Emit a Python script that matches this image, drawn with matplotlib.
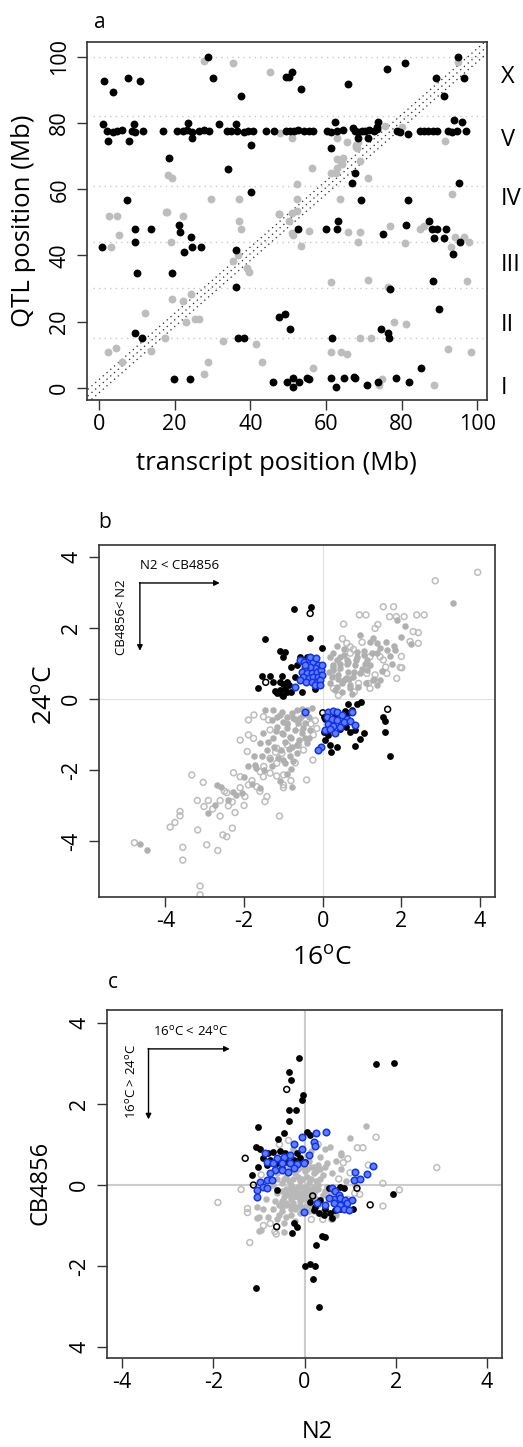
import numpy as np
import matplotlib
matplotlib.use("Agg")
import matplotlib.pyplot as plt

plt.rcParams['font.family'] = ['Open Sans', 'DejaVu Sans']
plt.rcParams['mathtext.fontset'] = 'custom'
plt.rcParams['mathtext.rm'] = 'Open Sans'
plt.rcParams['axes.unicode_minus'] = False

###############################################################################
# Data
###############################################################################
# panel a: transcript position vs QTL position (Mb)
a_black_x = [1.3, 3.6, 7.6, 10.9, 28.9, 30.2, 37.6, 49.4, 50.2, 51.0, 53.3, 65.9,
             76.2, 81.0, 89.2, 91.2, 95.0, 96.6,
             1.1, 2.4, 7.8, 9.2, 23.5, 24.7, 31.6, 36.3, 40.2, 62.4, 61.3, 68.6,
             71.1, 73.9, 94.0, 96.1, 81.6, 73.5, 67.1,
             2.2, 3.6, 4.7, 6.0, 8.6, 9.5, 11.7, 16.8, 20.5, 22.1, 23.2, 24.5,
             26.3, 27.8, 29.2, 33.8, 34.8, 36.6, 38.2, 39.5, 40.8, 44.1, 46.3,
             49.4, 50.5, 51.6, 52.7, 54.1, 55.4, 56.5, 60.4, 61.3, 62.9, 64.5,
             67.7, 68.6, 69.5, 70.4, 71.3, 72.6, 73.5, 78.7, 79.6, 84.9, 86.0,
             87.1, 88.3, 89.3, 92.4, 93.3, 94.6, 97.1,
             40.3, 34.0, 18.5, 7.3, 69.2, 81.6, 95.3, 67.7, 67.0,
             0.7, 9.4, 9.5, 13.7, 10.1, 19.3, 21.2, 21.4, 22.5, 24.3, 24.5, 27.0,
             36.3, 36.3, 36.8, 38.3, 9.5, 11.4, 19.9, 24.1, 52.5, 59.9, 63.0,
             63.1, 47.6, 49.2, 50.6, 61.6, 45.9, 49.7, 51.2, 51.2, 52.9, 54.9,
             55.4, 61.4, 62.7, 64.9, 67.5, 67.7, 70.8, 73.8, 78.6, 82.0, 85.1,
             74.6, 76.4, 76.8, 77.0, 75.0, 81.1, 88.3, 89.8, 87.3, 88.1, 89.3,
             88.5, 91.3, 91.8, 93.7, 95.5]
a_black_y = [92.7, 89.5, 93.6, 92.8, 100.0, 93.6, 88.2, 93.8, 93.8, 95.4, 90.4, 91.7,
             96.4, 98.1, 93.6, 88.2, 100.0, 93.6,
             79.6, 74.5, 74.6, 79.6, 80.1, 75.4, 79.6, 79.6, 73.3, 80.2, 72.5, 75.6,
             75.6, 80.2, 81.0, 80.2, 76.6, 78.9, 78.6,
             77.6, 77.3, 77.6, 77.9, 77.6, 77.3, 77.6, 77.6, 77.6, 77.6, 77.9, 77.3,
             77.6, 77.9, 77.6, 77.6, 77.6, 77.6, 77.3, 77.6, 77.6, 77.6, 77.6,
             77.6, 77.6, 77.6, 77.9, 77.6, 77.6, 77.6, 77.6, 77.3, 77.6, 77.9,
             77.6, 77.3, 77.6, 77.6, 77.9, 77.6, 78.2, 77.6, 77.3, 77.6, 77.6,
             77.6, 77.6, 77.6, 77.6, 77.3, 77.6, 77.6,
             59.2, 66.1, 69.3, 56.8, 56.8, 56.8, 62.0, 65.0, 62.0,
             42.5, 47.9, 44.2, 47.9, 34.7, 34.7, 49.2, 47.0, 41.0, 45.5, 42.5, 42.6,
             41.6, 30.6, 15.1, 15.1, 16.7, 15.1, 2.7, 2.7, 47.9, 47.9, 47.9,
             50.5, 21.5, 22.2, 17.8, 15.1, 1.8, 1.8, 2.8, 0.1, 1.8, 3.0,
             2.6, 2.8, 0.1, 2.8, 3.3, 2.8, 0.8, 1.8, 2.8, 1.8, 5.9,
             17.8, 16.7, 15.1, 29.7, 46.4, 49.2, 32.3, 23.8, 50.5, 47.9, 47.9,
             45.4, 45.4, 47.9, 40.3, 44.2]
a_gray_x = [27.8, 35.3, 45.1, 95.0, 47.9, 51.0, 63.0, 65.5, 68.0, 68.2, 62.9, 64.0,
            64.3, 69.0, 56.2, 62.8, 62.6, 71.0, 52.3, 75.7, 80.1, 91.5, 93.3, 18.1,
            19.2, 29.5, 36.9, 52.3, 63.8, 17.6, 47.5, 52.3, 64.4, 68.0, 68.4, 61.4,
            2.5, 4.7, 5.3, 3.2, 17.9, 19.0, 22.1, 19.2, 22.2, 24.3, 22.9, 25.4, 26.5,
            12.1, 17.5, 13.8, 2.3, 4.6, 6.1, 27.8, 28.8, 32.7, 35.4, 36.8, 39.1,
            39.6, 36.9, 37.5, 41.5, 43.2, 47.7, 50.2, 51.0, 51.4, 51.1, 53.4, 55.6,
            56.7, 61.3, 61.3, 63.9, 65.9, 65.5, 68.9, 68.6, 68.9, 71.2, 71.9, 74.1,
            74.8, 76.5, 77.0, 78.0, 80.9, 81.2, 85.0, 85.9, 88.5, 92.2, 93.0, 94.1,
            96.4, 97.9, 97.2, 98.3]
a_gray_y = [98.9, 98.1, 95.4, 98.6, 76.9, 75.4, 75.4, 74.4, 73.5, 72.5, 69.0, 68.2,
            67.5, 68.6, 66.4, 66.4, 65.0, 63.3, 61.5, 79.2, 78.9, 74.6, 58.7, 64.4,
            63.4, 56.9, 57.0, 57.0, 57.0, 53.1, 52.5, 53.3, 69.4, 72.7, 74.2, 64.8,
            52.0, 52.0, 46.2, 42.6, 53.0, 44.2, 52.0, 26.8, 26.2, 28.2, 19.8, 20.8, 20.8,
            22.5, 15.1, 11.2, 10.9, 11.9, 7.7, 4.3, 7.7, 14.1, 38.3, 40.1, 36.1,
            35.1, 50.5, 47.9, 13.2, 7.7, 52.4, 50.5, 46.9, 46.2, 52.8, 42.9, 47.4,
            5.9, 32.1, 10.9, 10.9, 47.0, 10.2, 47.0, 44.2, 15.1, 32.6, 15.1, 0.8,
            2.6, 30.6, 48.9, 19.8, 43.6, 19.2, 47.9, 48.9, 0.8, 11.7, 42.6, 45.5,
            45.5, 44.2, 32.3, 10.9]
chrom_bounds = [100, 82, 61, 44, 30, 15]
chrom_names = ['X', 'V', 'IV', 'III', 'II', 'I']
chrom_label_y = [94, 75, 57, 37, 19, 0]

# panel b: 16C vs 24C
b_black_x = [-0.73, -0.30, -1.48, -0.32, -0.03, -1.09, -0.96, -1.02, -0.38, -0.81,
             -0.58, -0.41, -1.54, -1.34, -1.04, -1.26, -1.10, -1.02, -0.92, -0.87,
             -1.64, -1.21, -1.09, -0.96, -1.17, -1.04, -0.92, -1.02, -0.81, -0.53,
             -0.19, -0.70, -0.66,
             0.06, 0.14, 0.65, 0.87, 0.98, 0.74, 0.57, 0.65, 0.82, 1.05, 0.70, 0.59,
             0.95, 0.82, 0.02, 0.14, 0.06, 0.19, 0.36, 0.20, 1.54, 1.59, 1.59, 1.71,
             0.44, 0.02, 0.30]
b_black_y = [2.53, 2.60, 1.68, 1.71, 1.43, 1.36, 1.33, 1.17, 1.15, 0.89,
             1.17, 1.19, 0.66, 0.66, 0.66, 0.49, 0.47, 0.41, 0.49, 0.39,
             0.30, 0.23, 0.25, 0.27, 0.16, 0.11, 0.21, 0.09, 0.21, 0.21,
             0.27, 0.63, 0.96,
             -0.56, -0.67, -0.14, -0.15, -0.08, -0.31, -0.33, -0.40, -0.87, -0.95,
             -0.94, -0.78, -1.14, -1.32, -0.92, -1.01, -1.16, -1.30, -1.36, -1.50,
             -0.52, -0.61, -0.92, -1.62, -0.85, -0.50, -0.45]
b_open_black_x = [-0.32, -1.45, 0.0, 1.65]
b_open_black_y = [2.41, 0.47, -0.39, -0.29]
b_blue_x = [-0.58, -0.47, -0.36, -0.24, -0.11, -0.19, -0.32, -0.45, -0.53, -0.41,
            -0.28, -0.15, -0.05, -0.49, -0.36, -0.24, -0.11, -0.03, -0.58, -0.42,
            -0.28, -0.15, -0.07, -0.70, -0.19, -0.08, -0.32, -0.17, -0.03, -0.45,
            0.14, 0.27, 0.37, 0.48, 0.61, 0.74, 0.10, 0.23, 0.36, 0.53, 0.70, 0.82,
            0.14, 0.27, 0.44, 0.06, 0.19, 0.31, -0.05, -0.11, -0.45]
b_blue_y = [1.10, 1.05, 1.12, 1.05, 0.96, 0.86, 0.91, 0.86, 0.77, 0.72,
            0.74, 0.77, 0.82, 0.63, 0.58, 0.61, 0.63, 0.68, 0.53, 0.49,
            0.49, 0.49, 0.53, 0.35, 0.39, 0.39, 1.19, 1.15, 0.96, 0.95,
            -0.36, -0.33, -0.36, -0.45, -0.55, -0.36, -0.50, -0.55, -0.59, -0.64,
            -0.61, -0.73, -0.70, -0.76, -0.80, -0.87, -0.85, -0.97, -1.34, -1.44, -0.38]
b_gray_x = [-4.66, -4.48, -2.91, -2.74, -2.70, -2.60, -2.27, -2.06, -1.76, -1.72,
            -0.81, -1.00, -1.42, -1.59, -1.51, -1.17, -1.00, -0.92, -0.79, -0.66,
            -0.53, -0.41, -0.28, -0.58, -0.45, -0.32, -0.36, -0.53, -0.70, -0.83,
            -0.96, -0.79, -0.66, -0.83, -0.92, -1.04, -1.26, -1.26, -1.47, -1.17,
            -1.04, -0.92, -0.75, -0.62, -0.49, -0.79,
            -1.3, -1.1, -0.9, -0.7, -0.5, -0.35, -1.2, -1.0, -0.8, -0.6, -0.4,
            -1.4, -1.25, -1.05, -0.85, -0.65, -0.45, -1.55, -1.35, -1.15, -0.95,
            -0.75, -1.7, -1.5, -1.3, -1.1, -0.9, -2.0, -1.8, -1.6, -2.2, -2.4, -1.9,
            0.19, 0.27, 0.36, 0.44, 0.53, 0.61, 0.82, 0.87, 1.04, 1.08, 1.37, 1.76,
            0.15, 0.27, 0.40, 0.53, 0.65, 0.78, 0.95, 1.12, 1.46, 0.19, 0.36, 0.70,
            1.37, 0.23, 0.48, 0.68, 3.31, 1.88, 2.10, 0.95, 1.19, 1.29, 1.37, 1.63,
            1.84, 2.24, 0.27, 0.44, 0.61, 0.87, 1.12, 1.29,
            0.3, 0.5, 0.7, 0.9, 1.1, 1.3, 0.4, 0.6, 0.8, 1.0, 1.2, 1.5, 1.7, 0.25,
            0.45, 0.65, 0.85, 1.05, 1.25, 1.45, 1.6, 1.8, 2.0, 0.35, 0.55, 0.75]
b_gray_y = [-4.09, -4.25, -3.22, -2.99, -2.42, -2.47, -2.61, -2.66, -1.62, -1.86,
            -1.98, -1.72, -1.44, -1.25, -0.97, -0.78, -0.64, -0.50, -0.40, -0.31,
            -0.29, -0.31, -0.26, -0.54, -0.69, -0.87, -1.11, -0.97, -0.87, -1.06,
            -1.20, -1.34, -1.53, -1.62, -0.83, -0.97, -1.11, -0.31, -0.31, -0.50,
            -0.36, -0.69, -0.54, -0.69, -0.83, -2.47,
            -0.6, -0.45, -0.7, -0.55, -0.45, -0.5, -0.9, -1.0, -1.1, -1.15, -1.25,
            -1.2, -1.35, -1.45, -1.4, -1.3, -1.1, -1.6, -1.7, -1.65, -1.8,
            -1.75, -1.95, -2.0, -1.9, -2.3, -2.1, -2.2, -2.4, -2.5, -2.7, -2.85, -1.9,
            1.19, 0.96, 1.10, 0.86, 1.24, 1.00, 0.96, 1.33, 1.24, 1.00, 1.29, 1.00,
            0.77, 0.82, 0.68, 0.53, 0.77, 0.63, 0.72, 0.82, 0.53, 0.44, 0.35, 0.39,
            0.39, 0.63, 0.44, 0.55, 2.71, 2.23, 2.06, 1.80, 1.61, 1.71, 1.57, 1.38,
            1.38, 1.55, 1.29, 1.19, 1.10, 1.19, 1.10, 0.54,
            0.25, 0.2, 0.3, 0.35, 0.45, 0.55, 0.55, 0.6, 0.75, 0.85, 0.95, 0.8, 1.2, 0.9,
            1.0, 1.05, 1.1, 1.35, 1.3, 1.45, 1.6, 1.5, 1.75, 1.5, 1.4, 0.15]
b_gray_open_x = [-4.79, -3.88, -3.76, -3.63, -3.63, -3.56, -3.56, -3.18, -2.95, -2.67,
                 -3.33, -3.04, -3.19, -2.91, -3.02, -2.61, -2.61, -2.40, -2.23, -2.54,
                 -2.44, -2.30, -1.10, -2.44, -1.98, -1.89, -1.68, -1.47, -1.42, -2.10,
                 -2.27, -2.10, -1.89, -1.92, -1.59, -1.51, -1.34, -1.17, -1.00, -0.81,
                 -1.34, -1.17, -1.17, -1.76, -1.34, -0.62, -0.49, -1.04, -1.38, -1.51,
                 -0.24, -0.15, -0.19, -1.75, -1.89, -0.25, -1.00, -0.41, -3.12, -3.12,
                 0.70, 1.20, 1.54, 1.97, 1.33, 1.16, 0.91, 0.27,
                 3.94, 2.86, 1.54, 0.93, 1.10, 1.70, 1.87, 2.07, 2.39, 2.58, 2.43, 0.53,
                 1.33, 0.61, 0.70, 0.78, 2.22, 2.43, 2.01, 1.46, 0.36, 1.12, 1.63, 1.88,
                 -0.3, -0.6, -0.9, -1.2, -1.5, -1.8, -2.1, -2.5, -2.8, -0.7, -1.0,
                 -1.6, -2.0, -2.3, 0.4, 0.8, 1.2, 1.6, 2.0, 2.3, 0.5, 1.0, 1.4, 1.8]
b_gray_open_y = [-4.05, -3.61, -3.48, -3.17, -3.29, -4.18, -4.54, -3.69, -4.11, -4.27,
                 -2.14, -2.35, -2.86, -2.86, -3.03, -2.86, -3.30, -3.01, -3.20, -3.83,
                 -3.88, -3.64, -3.30, -2.64, -2.75, -2.42, -2.47, -2.89, -2.75, -2.19,
                 -2.08, -1.16, -1.01, -1.48, -2.05, -2.19, -2.09, -2.17, -2.14, -2.30,
                 -1.67, -1.81, -1.39, -1.11, -0.87, -1.30, -1.44, -1.53, -0.59, -0.50,
                 -1.01, -0.83, -0.61, -0.45, -0.59, -1.72, -2.42, -2.28, -5.27, -5.52,
                 1.29, 1.19, 1.10, 0.89, 0.68, 0.44, 0.44, 0.30,
                 3.57, 3.33, 2.60, 2.37, 2.37, 2.32, 2.32, 2.32, 2.37, 2.37, 1.87, 2.11,
                 1.99, 1.57, 1.47, 1.40, 1.62, 1.57, 0.88, 1.19, 0.72, 0.72, 0.72, 0.58,
                 -0.7, -0.8, -1.3, -1.5, -1.9, -2.3, -2.5, -2.6, -3.1, -1.8, -2.5,
                 -2.6, -3.0, -2.9, 0.1, 0.2, 0.3, 0.9, 1.2, 1.9, 1.7, 1.6, 2.1, 2.6]

# panel c: N2 vs CB4856
c_black_x = [-0.11, -0.35, -0.29, -0.04, -0.06, -0.33, -0.18, -0.34, 1.57, 1.97,
             -1.02, -0.44, -0.58, -1.06, -0.97, 0.05, 0.13, -0.79, -0.68, -0.53,
             -0.42, -0.31, -0.17, -0.90, -0.75, -0.60, -0.38, -0.24, -0.09, 0.00,
             -1.01, -0.82, -0.50, -1.15, -0.61, 0.53, 0.64, 0.78, 0.87, 1.95,
             0.13, 0.24, 0.35, 0.45, 0.56, 0.67, 0.78, 1.06, 0.20, 0.31, 0.42, 0.60,
             -0.22, -0.17, -0.28, 0.38, 0.45, 0.26, 0.0, 0.13, 0.23, 0.18, -1.07, 0.32]
c_black_y = [3.13, 2.80, 2.59, 2.22, 2.10, 1.85, 1.85, 1.59, 2.98, 3.02,
             1.42, 1.28, 1.13, 0.93, 0.88, 1.32, 1.24, 0.80, 0.82, 0.85,
             0.78, 0.74, 0.78, 0.66, 0.62, 0.54, 0.58, 0.62, 0.66, 0.58,
             0.45, 0.49, 0.41, 0.25, -0.12, -0.08, -0.12, -0.06, -0.08, -0.23,
             -0.41, -0.54, -0.37, -0.58, -0.70, -0.62, -0.58, -0.58, -0.62, -0.70, -0.74, -0.82,
             -0.93, -1.03, -1.18, -1.25, -1.29, -1.48, -2.0, -1.96, -2.0, -2.32, -2.54, -3.01]
c_open_black_x = [-0.39, -1.12, -1.30, 1.15, 0.18, 1.44, -0.61]
c_open_black_y = [2.36, 0.0, 0.66, -0.08, -0.27, -0.49, -1.03]
c_blue_x = [-0.06, 0.25, 0.48, -0.23, 0.20, 0.24, -0.06, 0.09, -0.86, -0.61, -0.46,
            -0.31, -0.83, -0.68, -0.50, -0.31, -0.17, -0.02, -0.64, -0.50, -0.37,
            -0.24, -0.75, -0.97, -0.82, -0.71, -0.90, -1.04, -0.82, -1.04, 0.60,
            0.67, 0.75, 0.64, 0.78, 0.89, 0.53, 0.45, 0.64, 0.78, 0.93, 1.05, 0.71,
            0.86, 0.97, -0.01, 1.08, 1.22, 1.11, 1.37, 1.51, 0.27]
c_blue_y = [1.19, 1.28, 1.32, 1.01, 1.05, 0.96, 0.88, 0.74, 0.80, 0.66, 0.70,
            0.74, 0.58, 0.54, 0.54, 0.54, 0.52, 0.55, 0.37, 0.37, 0.33,
            0.41, 0.29, 0.08, 0.12, 0.12, -0.06, -0.12, -0.08, -0.30, -0.08,
            -0.14, -0.25, -0.35, -0.33, -0.37, -0.33, -0.49, -0.45, -0.49, -0.45, -0.37, -0.58,
            -0.58, -0.62, -0.66, 0.12, 0.15, 0.31, 0.27, 0.47, -0.45]
c_gray_x = [-0.5, -0.3, -0.1, 0.1, 0.3, 0.5, 0.7, 0.8, -0.6, -0.4, -0.2, 0.0, 0.2,
            0.4, 0.6, 0.8, -0.7, -0.5, -0.3, -0.1, 0.1, 0.3, 0.5, -0.6, -0.4, -0.2,
            0.0, 0.2, 0.4, -0.5, -0.3, -0.1, 0.1, 0.3, -0.7, -0.5, -0.3, -0.1, 0.1,
            -0.8, -0.6, -0.4, -0.2, -1.0, -0.9, 0.6, 0.7, -0.15, -0.05, 0.05, -0.25,
            -0.35, 0.15, -0.25, 0.9, 1.1, -0.85, -0.45, -0.95, 0.35, 0.45, 0.25,
            0.55, -1.05, 1.35, 0.99, -1.04, -0.99, -0.46, 0.8,
            -0.45, -0.35, -0.25, -0.15, -0.05, 0.05, 0.15, 0.25, 0.35, -0.4, -0.3,
            -0.2, -0.1, 0.0, 0.1, 0.2, 0.3, -0.45, -0.35, -0.25, -0.15, -0.05, 0.05,
            0.15, 0.25, -0.55, -0.65, -0.55, 0.45, 0.55, 0.65, -0.2, -0.1, 0.0, 0.1,
            -0.3, -0.4, 0.2, 0.3, -0.6,
            -0.55, -0.45, -0.35, -0.25, -0.15, -0.05, 0.05, 0.15, 0.25, 0.35, 0.45,
            -0.5, -0.4, -0.3, -0.2, -0.1, 0.0, 0.1, 0.2, 0.3, 0.4,
            -0.5, -0.4, -0.3, -0.2, -0.1, 0.0, 0.1, 0.2]
c_gray_y = [0.5, 0.6, 0.7, 0.6, 0.5, 0.55, 0.6, 0.75, 0.3, 0.2, 0.3, 0.35, 0.3,
            0.25, 0.3, 0.4, 0.0, 0.05, 0.0, 0.1, 0.05, 0.0, -0.05, -0.2, -0.15, -0.2,
            -0.15, -0.2, -0.25, -0.4, -0.35, -0.4, -0.45, -0.5, -0.6, -0.65, -0.6, -0.7, -0.65,
            -0.8, -0.85, -0.8, -0.9, -0.8, -0.6, -0.7, -0.75, -0.05, -0.25, -0.3, -0.45,
            0.45, 0.85, 0.9, 0.1, 0.0, -0.35, -0.95, -1.1, 0.7, 0.9, 1.0,
            0.95, -0.55, 1.46, 1.15, -0.82, -1.14, -1.15, 0.8,
            0.15, 0.1, 0.15, 0.2, 0.15, 0.2, 0.15, 0.1, 0.15, -0.1, -0.05,
            -0.1, -0.05, -0.1, -0.1, -0.05, -0.1, -0.3, -0.25, -0.3, -0.3, -0.35, -0.35,
            -0.3, -0.35, -0.5, -0.4, -0.75, -0.15, -0.2, -0.1, -0.55, -0.5, -0.55, -0.55,
            -0.75, -0.5, 0.45, 0.4, 0.15,
            0.4, 0.35, 0.45, 0.5, 0.4, 0.45, 0.4, 0.45, 0.35, 0.4, 0.45,
            -0.55, -0.45, -0.5, -0.6, -0.55, -0.6, -0.6, -0.65, -0.7, -0.65,
            -0.15, -0.2, -0.15, -0.25, -0.2, -0.05, -0.2, -0.15]
c_gray_open_x = [2.9, 1.72, 2.08, 1.72, 1.21, 1.57, 1.16, 1.28, -1.39, -1.9, -1.25,
                 -1.25, -1.2, -0.62, 1.4, 1.0, 0.85, -0.75, -0.9, 0.6, 0.4, 0.95,
                 1.1, 0.3, -0.55, -0.35, 0.95, 1.15, -0.95, -0.65, 0.15, 0.75]
c_gray_open_y = [0.43, 0.04, -0.12, -0.52, -0.23, 1.18, 0.92, 0.92, -0.11, -0.43, -0.58,
                 -0.68, -1.42, -1.21, 0.49, 0.3, 0.55, -0.95, -1.0, -0.85, -0.85, -0.35,
                 -0.2, 1.0, 1.0, 1.1, 0.65, 0.15, 0.25, -1.15, -0.85, 0.15]

###############################################################################
# Styling helpers
###############################################################################
W, H = 523, 1447
fig = plt.figure(figsize=(W / 100, H / 100), dpi=100)

def px_axes(l, t, r, b):
    return fig.add_axes([l / W, 1 - b / H, (r - l) / W, (b - t) / H])

def ftext(x, y, s, **kw):
    fig.text(x / W, 1 - y / H, s, **kw)

def r_style(ax):
    for sp in ax.spines.values():
        sp.set_color('#333333')
        sp.set_linewidth(1.2)
    ax.tick_params(length=7, width=1, color='#333333', labelsize=15.5, pad=3)
    ax.tick_params(axis='y', labelrotation=90, pad=5)
    for lab in ax.get_yticklabels():
        lab.set_va('center')

GRAY = '#bdbdbd'
BLUE_FACE = '#5f7dff'
BLUE_EDGE = '#1434e0'

###############################################################################
# Panel a
###############################################################################
ax = px_axes(87, 42, 487, 400)
for yb in chrom_bounds:
    ax.axhline(yb, xmin=0.015, xmax=0.99, color='#c8c8c8', lw=1, ls=(0, (1, 3)))
diag = np.array([-4, 106])
for off in [2.5, 0.5, -1.5]:
    ax.plot(diag, diag + off, color='#222222', lw=0.9, ls=(0, (1, 3)))
ax.scatter(a_gray_x, a_gray_y, s=32, color=GRAY, lw=0, zorder=3)
ax.scatter(a_black_x, a_black_y, s=32, color='black', lw=0, zorder=4)
ax.set_xlim(-3.2, 102.6)
ax.set_ylim(-3.7, 104.5)
ax.set_xticks([0, 20, 40, 60, 80, 100])
ax.set_yticks([0, 20, 40, 60, 80, 100])
r_style(ax)
for name, yl in zip(chrom_names, chrom_label_y):
    ax.text(1.035, yl, name, transform=ax.get_yaxis_transform(), fontsize=17,
            ha='left', va='center')
ftext(100, 22, 'a', fontsize=15, ha='center', va='center')
ftext(276, 464, 'transcript position (Mb)', fontsize=18.5, ha='center', va='center')
ftext(24, 221, 'QTL position (Mb)', fontsize=18.5, ha='center', va='center',
      rotation=90)

###############################################################################
# Panel b
###############################################################################
ax = px_axes(99, 545, 495, 897)
ax.axhline(0, color='#e0e0e0', lw=0.8, zorder=0)
ax.axvline(0, color='#e0e0e0', lw=0.8, zorder=0)
ax.scatter(b_gray_open_x, b_gray_open_y, s=18, facecolor='none',
           edgecolor=GRAY, lw=1.1, zorder=2)
ax.scatter(b_gray_x, b_gray_y, s=22, color='#b0b0b0', lw=0, zorder=2)
ax.scatter(b_black_x, b_black_y, s=24, color='black', lw=0, zorder=3)
ax.scatter(b_open_black_x, b_open_black_y, s=18, facecolor='none',
           edgecolor='black', lw=1.1, zorder=3)
ax.scatter(b_blue_x, b_blue_y, s=22, facecolor=BLUE_FACE, edgecolor=BLUE_EDGE,
           lw=1.1, zorder=4)
ax.set_xlim(-5.69, 4.38)
ax.set_ylim(-5.58, 4.34)
ax.set_xticks([-4, -2, 0, 2, 4])
ax.set_yticks([-4, -2, 0, 2, 4])
r_style(ax)
ax.annotate('', xy=(-2.62, 3.27), xytext=(-4.66, 3.27),
            arrowprops=dict(arrowstyle='-|>', color='black', lw=1,
                            mutation_scale=8, shrinkA=0, shrinkB=0))
ax.annotate('', xy=(-4.65, 1.36), xytext=(-4.65, 3.28),
            arrowprops=dict(arrowstyle='-|>', color='black', lw=1,
                            mutation_scale=8, shrinkA=0, shrinkB=0))
ax.text(-3.65, 3.75, 'N2 < CB4856', fontsize=9.5, ha='center', va='center')
ax.text(-5.12, 2.3, 'CB4856< N2', fontsize=9.5, ha='center', va='center',
        rotation=90)
ftext(105, 523, 'b', fontsize=15, ha='center', va='center')
ftext(322, 958, r'16$^{\mathrm{o}}$C', fontsize=19, ha='center', va='center')
ftext(45, 695, r'24$^{\mathrm{o}}$C', fontsize=19, ha='center', va='center',
      rotation=90)

###############################################################################
# Panel c
###############################################################################
ax = px_axes(107, 1010, 502, 1358)
ax.axhline(0, color='#cccccc', lw=1.5, zorder=0)
ax.axvline(0, color='#cccccc', lw=1.5, zorder=0)
ax.scatter(c_gray_open_x, c_gray_open_y, s=18, facecolor='none',
           edgecolor=GRAY, lw=1.1, zorder=2)
ax.scatter(c_gray_x, c_gray_y, s=22, color='#b8b8b8', lw=0, zorder=2)
ax.scatter(c_black_x, c_black_y, s=24, color='black', lw=0, zorder=3)
ax.scatter(c_open_black_x, c_open_black_y, s=18, facecolor='none',
           edgecolor='black', lw=1.1, zorder=3)
ax.scatter(c_blue_x, c_blue_y, s=22, facecolor=BLUE_FACE, edgecolor=BLUE_EDGE,
           lw=1.1, zorder=4)
ax.set_xlim(-4.33, 4.33)
ax.set_ylim(-4.27, 4.32)
ax.set_xticks([-4, -2, 0, 2, 4])
ax.set_yticks([-4, -2, 0, 2, 4])
ax.set_yticklabels(['4', '-2', '0', '2', '4'])
r_style(ax)
ax.annotate('', xy=(-1.64, 3.36), xytext=(-3.43, 3.36),
            arrowprops=dict(arrowstyle='-|>', color='black', lw=1,
                            mutation_scale=8, shrinkA=0, shrinkB=0))
ax.annotate('', xy=(-3.42, 1.62), xytext=(-3.42, 3.37),
            arrowprops=dict(arrowstyle='-|>', color='black', lw=1,
                            mutation_scale=8, shrinkA=0, shrinkB=0))
ax.text(-2.5, 3.79, r'16$^{\mathrm{o}}$C < 24$^{\mathrm{o}}$C', fontsize=9.5,
        ha='center', va='center')
ax.text(-3.79, 2.55, r'16$^{\mathrm{o}}$C > 24$^{\mathrm{o}}$C', fontsize=9.5,
        ha='center', va='center', rotation=90)
ftext(113, 982, 'c', fontsize=15, ha='center', va='center')
ftext(317, 1432, 'N2', fontsize=17, ha='center', va='center')
ftext(40, 1183, 'CB4856', fontsize=17, ha='center', va='center', rotation=90)

fig.savefig('out.png', dpi=100)
